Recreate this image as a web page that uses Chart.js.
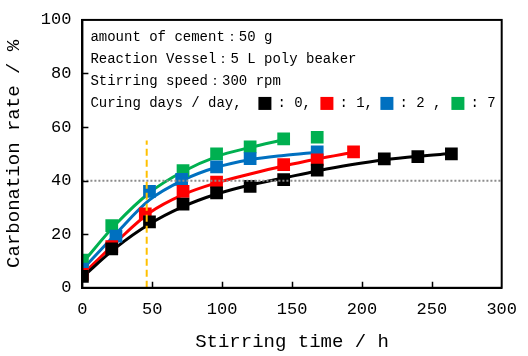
<!DOCTYPE html>
<html lang="ja">
<head>
<meta charset="UTF-8">
<title>Carbonation rate vs stirring time</title>
<script src="https://cdn.jsdelivr.net/npm/chart.js"></script>
<style>
  body { margin: 0; background: #fff; }
  canvas { display: block; }
</style>
</head>
<body>
<canvas id="chart" width="528" height="356"></canvas>
<script>
// measured points (stirring time h, carbonation rate %)
const day0Time = [0, 21, 48, 72, 96, 120, 144, 168, 216, 240, 264];
const day0Rate = [4.3, 14.5, 24.6, 31.2, 35.4, 37.9, 40.4, 43.9, 48.1, 49.0, 50.0];
const day1Time = [0, 21, 45, 72, 96, 144, 168, 194];
const day1Rate = [5.0, 15.4, 27.6, 36.0, 39.5, 46.0, 47.8, 50.7];
const day2Time = [0, 24, 48, 71, 96, 120, 168];
const day2Rate = [7.0, 19.3, 36.0, 40.5, 45.1, 48.2, 50.7];
const day7Time = [0, 21, 72, 96, 120, 144, 168];
const day7Rate = [10.3, 23.2, 43.7, 50.0, 52.6, 55.6, 56.2];

// fitted curves
const fit0Time = [0, 24, 48, 72, 96, 120, 144, 168, 192, 216, 240, 264];
const fit0Rate = [4.0, 15.0, 23.8, 30.3, 35.0, 38.4, 41.0, 43.6, 45.9, 47.8, 49.1, 50.1];
const fit1Time = [0, 24, 48, 72, 96, 120, 144, 168, 194];
const fit1Rate = [4.8, 17.0, 28.0, 34.8, 39.2, 42.5, 45.5, 48.1, 50.6];
const fit2Time = [0, 24, 48, 72, 96, 120, 144, 168];
const fit2Rate = [6.8, 20.2, 32.8, 40.2, 45.0, 47.8, 49.4, 50.6];
const fit7Time = [0, 24, 48, 72, 96, 120, 144];
const fit7Rate = [9.3, 23.8, 35.5, 43.4, 49.0, 52.4, 55.3];

const seriesColors = ['#000000', '#FF0000', '#0070C0', '#00B050'];
const seriesLabels = ['0', '1', '2', '7'];

const yTicks = [0, 20, 40, 60, 80, 100];
const xTicks = [0, 50, 100, 150, 200, 250, 300];
const thresholdRate = 40;
const markerTime = 46;
const markerTop = 55;

const infoLines = [
  'amount of cement：50 g',
  'Reaction Vessel：5 L poly beaker',
  'Stirring speed：300 rpm'
];

const monoFont = "'Liberation Mono', 'DejaVu Sans Mono', monospace";

function pts(xs, ys) {
  return xs.map((x, i) => ({ x: x, y: ys[i] }));
}

const pointSets = [[day0Time, day0Rate], [day1Time, day1Rate], [day2Time, day2Rate], [day7Time, day7Rate]];
const fitSets = [[fit0Time, fit0Rate], [fit1Time, fit1Rate], [fit2Time, fit2Rate], [fit7Time, fit7Rate]];

const datasets = [];
pointSets.forEach((s, i) => {
  datasets.push({
    label: seriesLabels[i],
    data: pts(s[0], s[1]),
    showLine: false,
    pointStyle: 'rect',
    pointRadius: 9,
    pointHoverRadius: 9,
    backgroundColor: seriesColors[i],
    borderColor: seriesColors[i],
    borderWidth: 0,
    order: 1
  });
});
fitSets.forEach((s, i) => {
  datasets.push({
    label: 'fit ' + seriesLabels[i],
    data: pts(s[0], s[1]),
    showLine: true,
    pointRadius: 0,
    borderColor: seriesColors[i],
    borderWidth: 3,
    cubicInterpolationMode: 'monotone',
    order: 2
  });
});

// reference lines, inward ticks, frame and the text box
const decor = {
  id: 'decor',
  afterDatasetsDraw(chart) {
    const { ctx, chartArea: a, scales: { x, y } } = chart;
    ctx.save();
    // dotted line at 40 %
    ctx.strokeStyle = '#8c8c8c';
    ctx.lineWidth = 2;
    ctx.setLineDash([2, 2]);
    ctx.beginPath();
    ctx.moveTo(a.left, y.getPixelForValue(thresholdRate));
    ctx.lineTo(a.right, y.getPixelForValue(thresholdRate));
    ctx.stroke();
    // dashed orange line
    ctx.strokeStyle = '#FFC000';
    ctx.lineWidth = 2;
    ctx.setLineDash([7, 4]);
    ctx.beginPath();
    ctx.moveTo(x.getPixelForValue(markerTime), y.getPixelForValue(0));
    ctx.lineTo(x.getPixelForValue(markerTime), y.getPixelForValue(markerTop));
    ctx.stroke();
    ctx.setLineDash([]);
    ctx.restore();
  },
  afterDraw(chart) {
    const { ctx, chartArea: a, scales: { x, y } } = chart;
    ctx.save();
    ctx.strokeStyle = '#000';
    ctx.lineWidth = 2;
    ctx.strokeRect(a.left, a.top, a.right - a.left, a.bottom - a.top);
    ctx.lineWidth = 1.5;
    ctx.beginPath();
    yTicks.slice(1, -1).forEach(v => {
      const py = Math.round(y.getPixelForValue(v)) + 0.5;
      ctx.moveTo(a.left, py);
      ctx.lineTo(a.left + 6, py);
    });
    xTicks.slice(1, -1).forEach(v => {
      const px = Math.round(x.getPixelForValue(v)) + 0.5;
      ctx.moveTo(px, a.bottom);
      ctx.lineTo(px, a.bottom - 6);
    });
    ctx.stroke();

    // text box
    ctx.fillStyle = '#000';
    ctx.font = '14px ' + monoFont;
    ctx.textBaseline = 'middle';
    ctx.textAlign = 'left';
    const tx = a.left + 8;
    infoLines.forEach((t, i) => ctx.fillText(t, tx, a.top + 17 + i * 22));
    const ly = a.top + 83;
    ctx.fillText('Curing days / day,', tx, ly);
    let cx = a.left + 176;
    const tails = [': 0,', ': 1,', ': 2 ,', ': 7'];
    const gaps = [62, 60, 71, 0];
    seriesColors.forEach((c, i) => {
      ctx.fillStyle = c;
      ctx.fillRect(cx, ly - 6, 13, 13);
      ctx.fillStyle = '#000';
      ctx.fillText(tails[i], cx + 19, ly);
      cx += gaps[i];
    });
    ctx.restore();
  }
};

new Chart(document.getElementById('chart'), {
  type: 'scatter',
  data: { datasets: datasets },
  options: {
    responsive: false,
    animation: false,
    layout: { padding: { left: 3, right: 24, top: 0, bottom: 3 } },
    plugins: {
      legend: { display: false },
      tooltip: { enabled: false }
    },
    scales: {
      x: {
        type: 'linear',
        min: 0,
        max: 300,
        afterBuildTicks: axis => { axis.ticks = xTicks.map(v => ({ value: v })); },
        ticks: { color: '#000', font: { family: monoFont, size: 17 }, padding: 11, maxRotation: 0 },
        grid: { drawOnChartArea: false, drawTicks: false },
        border: { color: '#000', width: 2 },
        title: {
          display: true,
          text: 'Stirring time / h',
          color: '#000',
          font: { family: monoFont, size: 19 },
          padding: { top: 0, bottom: 0 }
        }
      },
      y: {
        min: 0,
        max: 100,
        afterBuildTicks: axis => { axis.ticks = yTicks.map(v => ({ value: v })); },
        ticks: { color: '#000', font: { family: monoFont, size: 17, lineHeight: 1.05 }, padding: 11 },
        grid: { drawOnChartArea: false, drawTicks: false },
        border: { color: '#000', width: 2 },
        title: {
          display: true,
          text: 'Carbonation rate / %',
          color: '#000',
          font: { family: monoFont, size: 19 },
          padding: { top: 0, bottom: 4 }
        }
      }
    }
  },
  plugins: [decor]
});
</script>
</body>
</html>
